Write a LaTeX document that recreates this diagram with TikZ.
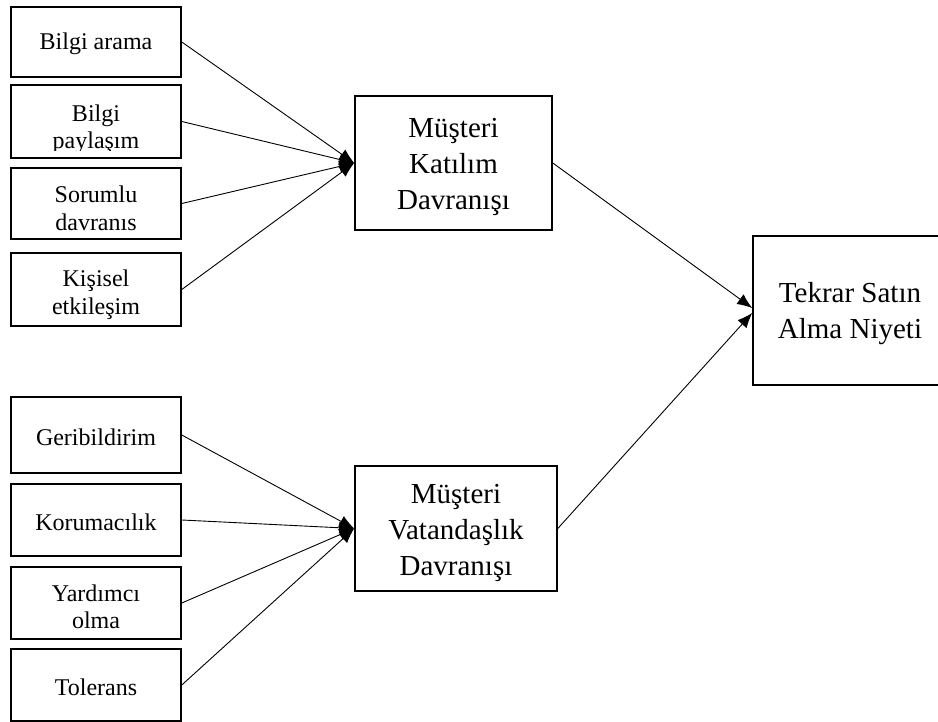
\documentclass[tikz,border=0pt]{standalone}
\usepackage{fontspec}
\setmainfont{Liberation Serif}
\usetikzlibrary{arrows.meta}
\begin{document}
\begin{tikzpicture}[x=1pt,y=-1pt,
  smallbox/.style={draw, line width=1.6pt, minimum width=170pt, inner sep=0pt},
  smalltext/.style={inner sep=0pt, align=center, font=\fontsize{24}{27.5}\selectfont},
  bigbox/.style={draw, line width=1.6pt, inner sep=0pt},
  bigtext/.style={inner sep=0pt, align=center, font=\fontsize{29}{36}\selectfont},
  conn/.style={line width=0.9pt, -{Latex[length=15pt,width=12pt]}}]
\clip (0,0) rectangle (938,722);
% left boxes, upper group
\node[smallbox, minimum height=70pt, label={[smalltext,yshift=-2pt]center:Bilgi arama}] (b1) at (96,42) {};
\node[smallbox, minimum height=73pt] (b2) at (96,121.5) {};
\begin{scope}
  \clip (12,86) rectangle (180,150.5);
  \node[smalltext] (b2t) at (96,129.5) {Bilgi\\paylaşım};
\end{scope}
\node[smallbox, minimum height=71pt, label={[smalltext,yshift=-5pt]center:Sorumlu\\davranıs}] (b3) at (96,203.5) {};
\node[smallbox, minimum height=73pt, label={[smalltext,yshift=-5pt]center:Kişisel\\etkileşim}] (b4) at (96,289.5) {};
% left boxes, lower group
\node[smallbox, minimum height=76pt, label={[smalltext,yshift=-2pt]center:Geribildirim}] (b5) at (96,435) {};
\node[smallbox, minimum height=72pt, label={[smalltext,yshift=-2pt]center:Korumacılık}] (b6) at (96,520) {};
\node[smallbox, minimum height=72pt, label={[smalltext,yshift=-4pt]center:Yardımcı\\olma}] (b7) at (96,603) {};
\node[smallbox, minimum height=72pt, label={[smalltext,yshift=-2pt]center:Tolerans}] (b8) at (96,685) {};
% middle boxes
\node[bigbox, minimum width=197pt, minimum height=134pt, label={[bigtext,yshift=-4pt]center:Müşteri\\Katılım\\Davranışı}] (m1) at (453.5,163) {};
\node[bigbox, minimum width=202pt, minimum height=125pt, label={[bigtext,yshift=-4pt]center:Müşteri\\Vatandaşlık\\Davranışı}] (m2) at (456,528.5) {};
% right box
\node[bigbox, minimum width=194pt, minimum height=149pt, label={[bigtext,yshift=-3pt]center:Tekrar Satın\\Alma Niyeti}] (r) at (850,310.5) {};
% connectors
\foreach \s in {b1,b2,b3,b4} \draw[conn] (\s.east) -- (m1.west);
\foreach \s in {b5,b6,b7,b8} \draw[conn] (\s.east) -- (m2.west);
\draw[conn] (m1.east) -- ([yshift=2.5pt]r.west);
\draw[conn] (m2.east) -- ([yshift=-2.5pt]r.west);
\end{tikzpicture}
\end{document}
